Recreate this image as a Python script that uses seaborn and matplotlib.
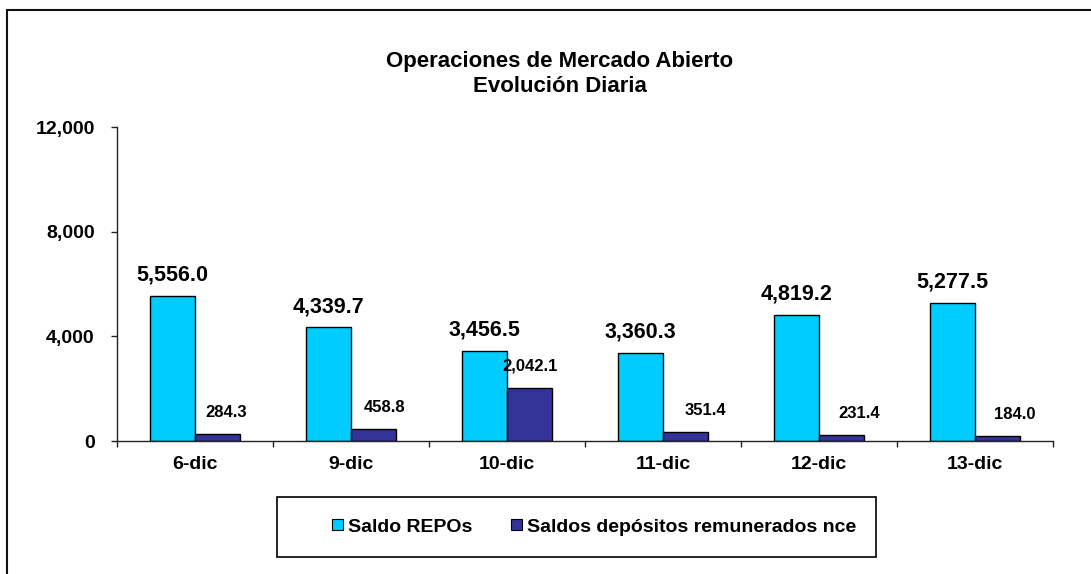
import matplotlib
matplotlib.use('Agg')
import matplotlib.pyplot as plt
import seaborn as sns
import pandas as pd
import numpy as np
from matplotlib.patches import Rectangle
from matplotlib.ticker import FuncFormatter

# Data
fechas = ['6-dic', '9-dic', '10-dic', '11-dic', '12-dic', '13-dic']
saldo_repos = [5556.0, 4339.7, 3456.5, 3360.3, 4819.2, 5277.5]
saldo_depositos = [284.3, 458.8, 2042.1, 351.4, 231.4, 184.0]
series = ['Saldo REPOs', 'Saldos depósitos remunerados nce']
colores = ['#00CCFF', '#333399']

df = pd.DataFrame({
    'fecha': fechas * 2,
    'valor': saldo_repos + saldo_depositos,
    'serie': [series[0]] * len(fechas) + [series[1]] * len(fechas),
})

sns.set_style('white')
plt.rcParams['font.family'] = ['Liberation Sans', 'DejaVu Sans']
plt.rcParams['font.weight'] = 'bold'
plt.rcParams['text.color'] = 'black'
plt.rcParams['xtick.color'] = 'black'
plt.rcParams['ytick.color'] = 'black'

fig = plt.figure(figsize=(10.91, 5.74), dpi=100)
ax = fig.add_axes([117 / 1091, 1 - 441 / 574, 936 / 1091, 314 / 574])

sns.barplot(data=df, x='fecha', y='valor', hue='serie', palette=colores,
            width=0.58, gap=0, edgecolor='black', linewidth=1,
            saturation=1, ax=ax, legend=True)

ax.set_xlim(-0.5, len(fechas) - 0.5)
ax.set_ylim(0, 12000)
ax.set_yticks([0, 4000, 8000, 12000])
ax.yaxis.set_major_formatter(FuncFormatter(lambda v, p: f'{v:,.0f}'))
ax.set_xlabel('')
ax.set_ylabel('')

for s in ['top', 'right']:
    ax.spines[s].set_visible(False)
for s in ['left', 'bottom']:
    ax.spines[s].set_color('#222222')
    ax.spines[s].set_linewidth(1)

ax.tick_params(axis='y', direction='out', length=4.5, width=1, color='#222222',
               labelsize=14, pad=11.5, left=True)
ax.tick_params(axis='x', which='major', length=0, labelsize=14, pad=11)
ax.set_xticks(np.arange(-0.5, len(fechas), 1), minor=True)
ax.tick_params(axis='x', which='minor', direction='out', length=4.5, width=1,
               color='#222222', bottom=True)
for lab in ax.get_xticklabels() + ax.get_yticklabels():
    lab.set_fontweight('bold')

# value labels
cyan_cont, dark_cont = ax.containers[0], ax.containers[1]
ax.bar_label(cyan_cont, labels=[f'{v:,.1f}' for v in saldo_repos],
             padding=7.5, fontsize=15.5, fontweight='bold')
dark_texts = ax.bar_label(dark_cont, labels=[f'{v:,.1f}' for v in saldo_depositos],
                          padding=10, fontsize=12, fontweight='bold')
# small labels sit a bit to the right of their bars, as in the original
shift_pt = [6, 8, 0, 14, 13, 12]
for t, dx in zip(dark_texts, shift_pt):
    x, y = t.xyann
    t.xyann = (x + dx, y)

# legend (frame drawn separately)
handles, labs = ax.get_legend_handles_labels()
ax.legend_.remove()
leg = fig.legend(handles, labs, loc='center', bbox_to_anchor=(594 / 1091, 1 - 527 / 574),
                 ncol=2, frameon=False,
                 prop={'weight': 'bold', 'size': 14}, handlelength=0.55,
                 handleheight=0.55, handletextpad=0.25, columnspacing=2.0,
                 borderaxespad=0)
for h in leg.legend_handles:
    h.set_edgecolor('black')
    h.set_linewidth(0.8)
fig.patches.append(Rectangle((277 / 1091, 1 - 557 / 574), 599 / 1091, 60 / 574,
                             transform=fig.transFigure, fill=False,
                             edgecolor='black', linewidth=1.2))

# title
fig.text(560 / 1091, 1 - 62 / 574, 'Operaciones de Mercado Abierto',
         ha='center', va='center', fontsize=16, fontweight='bold')
fig.text(560 / 1091, 1 - 86 / 574, 'Evolución Diaria',
         ha='center', va='center', fontsize=16, fontweight='bold')

# outer frame (only left and top edges visible in image)
fig.patches.append(Rectangle((7 / 1091, -0.1), 1.2, 1 - 10 / 574 + 0.1,
                             transform=fig.transFigure, fill=False,
                             edgecolor='#111111', linewidth=1.5))

fig.savefig('out.png', dpi=100)
